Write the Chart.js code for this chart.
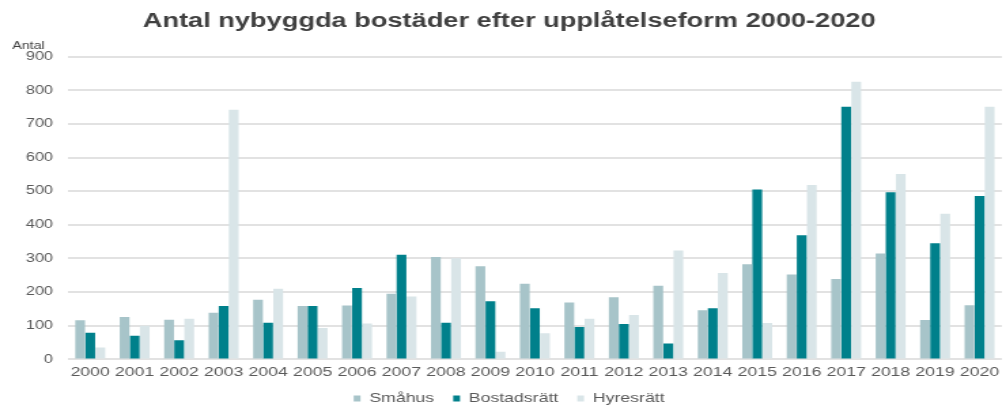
<!DOCTYPE html>
<html>
<head>
<meta charset="utf-8">
<script src="https://cdn.jsdelivr.net/npm/chart.js@4/dist/chart.umd.min.js"></script>
<style>
  html, body { margin: 0; padding: 0; background: #ffffff; overflow: hidden; }
  #wrap { width: 1006px; height: 405px; overflow: hidden; }
  #c { display: block; transform: scaleX(1.3595); transform-origin: 0 0; }
</style>
</head>
<body>
<div id="wrap"><canvas id="c" width="740" height="405"></canvas></div>
<script>
const years = ['2000','2001','2002','2003','2004','2005','2006','2007','2008','2009','2010','2011','2012','2013','2014','2015','2016','2017','2018','2019','2020'];
const smahus      = [116,126,118,139,177,159,160,195,304,277,225,169,185,219,146,283,252,239,315,117,161];
const bostadsratt = [ 79, 70, 57,159,109,159,212,311,109,173,152, 96,105, 47,152,505,369,751,497,345,486];
const hyresratt   = [ 35,100,121,742,210, 93,107,187,301, 23, 78,121,132,324,257,108,518,825,551,433,751];
const yTickValues = [0,100,200,300,400,500,600,700,800,900];
const seriesNames = ['Småhus','Bostadsrätt','Hyresrätt'];
const titleText = 'Antal nybyggda bostäder efter upplåtelseform 2000-2020';
const unitText = 'Antal';

const FONT = '"Liberation Sans", Arial, sans-serif';

const legendNudge = {
  id: 'legendNudge',
  afterLayout(chart) {
    const l = chart.legend;
    if (l) { l.top -= 7; l.bottom -= 7; }
  }
};

new Chart(document.getElementById('c'), {
  type: 'bar',
  data: {
    labels: years,
    datasets: [
      { label: seriesNames[0], data: smahus,      backgroundColor: '#a7c4c9' },
      { label: seriesNames[1], data: bostadsratt, backgroundColor: '#00808b' },
      { label: seriesNames[2], data: hyresratt,   backgroundColor: '#d9e5e8' }
    ]
  },
  plugins: [legendNudge],
  options: {
    responsive: false,
    animation: false,
    devicePixelRatio: 1,
    datasets: { bar: { categoryPercentage: 0.68, barPercentage: 0.97 } },
    layout: { padding: { left: 9, right: 0, top: 0, bottom: -17 } },
    plugins: {
      title: {
        display: true, text: titleText, color: '#404040',
        font: { family: FONT, size: 20, weight: 'bold' },
        padding: { top: 9, bottom: 4 }
      },
      subtitle: {
        display: true, text: unitText, align: 'start', color: '#404040',
        font: { family: FONT, size: 10.5 },
        padding: { top: 3, bottom: 4 }
      },
      legend: {
        position: 'bottom',
        labels: {
          boxWidth: 5, boxHeight: 6, padding: 14, color: '#595959',
          font: { family: FONT, size: 13 }
        }
      },
      tooltip: { enabled: false }
    },
    scales: {
      x: {
        grid: { display: false, drawTicks: false },
        border: { display: false },
        ticks: { color: '#595959', font: { family: FONT, size: 13 }, padding: 5, maxRotation: 0, autoSkip: false }
      },
      y: {
        min: 0, max: 900,
        afterBuildTicks: (s) => { s.ticks = yTickValues.map(v => ({ value: v })); },
        afterFit: (s) => { s.width = 41; },
        grid: { color: '#e2e2e2', lineWidth: 2, drawTicks: false },
        border: { display: false },
        ticks: { color: '#595959', font: { family: FONT, size: 12 }, padding: 11 }
      }
    }
  }
});
</script>
</body>
</html>
